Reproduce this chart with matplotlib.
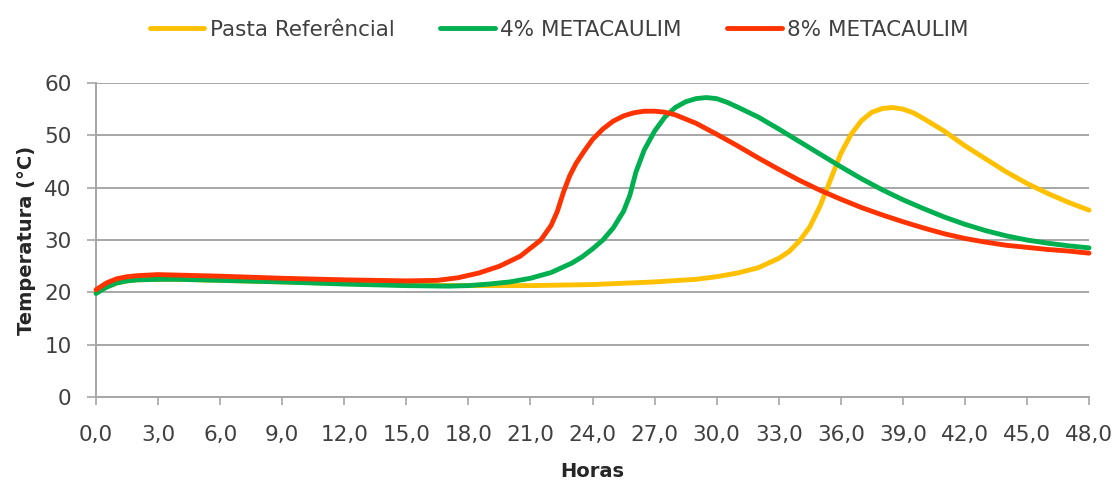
import matplotlib
matplotlib.use("Agg")
import matplotlib.pyplot as plt

# Hours of hydration and measured temperatures (°C)
hours_ref = [0, 0.5, 1, 1.5, 2, 3, 4, 6, 9, 12, 15, 18, 21, 24, 27, 29, 30, 31, 32, 33, 33.5, 34,
             34.5, 35, 35.5, 36, 36.5, 37, 37.5, 38, 38.5, 39, 39.5, 40, 41, 42, 43, 44, 45, 46, 47, 48]
temp_ref = [20.0, 21.0, 21.8, 22.2, 22.4, 22.5, 22.5, 22.3, 22.0, 21.7, 21.4, 21.3, 21.3, 21.5, 22.0, 22.5,
            23.0, 23.7, 24.7, 26.5, 27.8, 29.8, 32.5, 36.5, 41.5, 46.5, 50.2, 52.8, 54.4, 55.1, 55.3, 55.0,
            54.3, 53.2, 50.8, 48.0, 45.5, 43.0, 40.8, 38.9, 37.2, 35.7]

hours_4 = [0, 0.5, 1, 1.5, 2, 3, 4, 6, 9, 12, 15, 17, 18, 19, 20, 21, 22, 23, 23.5, 24, 24.5, 25, 25.5,
           25.8, 26.1, 26.5, 27, 27.5, 28, 28.5, 29, 29.5, 30, 30.5, 31, 32, 33, 34, 35, 36, 37, 38, 39,
           40, 41, 42, 43, 44, 45, 46, 47, 48]
temp_4 = [19.8, 21.0, 21.8, 22.2, 22.4, 22.5, 22.5, 22.3, 22.0, 21.6, 21.3, 21.2, 21.3, 21.6, 22.0, 22.7,
          23.8, 25.6, 26.8, 28.3, 30.0, 32.3, 35.5, 38.5, 43.0, 47.2, 50.8, 53.5, 55.3, 56.4, 57.0, 57.2,
          57.0, 56.3, 55.4, 53.5, 51.2, 48.8, 46.4, 44.0, 41.7, 39.6, 37.7, 36.0, 34.4, 33.0, 31.8, 30.8,
          30.0, 29.4, 28.9, 28.5]

hours_8 = [0, 0.5, 1, 1.5, 2, 3, 4, 6, 9, 12, 15, 16.5, 17.5, 18.5, 19.5, 20.5, 21.5, 22, 22.3, 22.6,
           22.9, 23.2, 23.6, 24, 24.5, 25, 25.5, 26, 26.5, 27, 27.5, 28, 29, 30, 31, 32, 33, 34, 35, 36,
           37, 38, 39, 40, 41, 42, 43, 44, 45, 46, 47, 48]
temp_8 = [20.5, 21.8, 22.6, 23.0, 23.2, 23.4, 23.3, 23.1, 22.7, 22.4, 22.2, 22.3, 22.8, 23.7, 25.0, 26.9,
          30.0, 32.8, 35.5, 39.2, 42.3, 44.6, 47.0, 49.2, 51.2, 52.7, 53.7, 54.3, 54.6, 54.6, 54.4, 53.9,
          52.3, 50.2, 48.0, 45.7, 43.5, 41.4, 39.5, 37.8, 36.2, 34.8, 33.5, 32.3, 31.2, 30.3, 29.6, 29.0,
          28.6, 28.2, 27.9, 27.5]

series_labels = ["Pasta Referêncial", "4% METACAULIM", "8% METACAULIM"]
series_colors = ["#FFC000", "#00B050", "#FF3300"]

x_ticks = [0, 3, 6, 9, 12, 15, 18, 21, 24, 27, 30, 33, 36, 39, 42, 45, 48]
y_ticks = [0, 10, 20, 30, 40, 50, 60]

plt.rcParams["font.family"] = ["DejaVu Sans"]

fig = plt.figure(figsize=(11.18, 4.82), dpi=100)
ax = fig.add_axes([0.0859, 0.176, 0.8882, 0.652])

for xs, ys, lab, col in zip([hours_ref, hours_4, hours_8], [temp_ref, temp_4, temp_8],
                            series_labels, series_colors):
    ax.plot(xs, ys, color=col, lw=3.5, label=lab, solid_capstyle="round",
            solid_joinstyle="round", zorder=3, clip_on=False)

ax.set_xlim(0, 48)
ax.set_ylim(0, 60)
ax.set_xticks(x_ticks)
ax.set_xticklabels([f"{v:.1f}".replace(".", ",") for v in x_ticks])
ax.set_yticks(y_ticks)

grid_color = "#A6A6A6"
ax.yaxis.grid(True, color=grid_color, lw=1.4, zorder=0)
ax.set_axisbelow(True)
for side in ["top", "right"]:
    ax.spines[side].set_visible(False)
for side in ["left", "bottom"]:
    ax.spines[side].set_color(grid_color)
    ax.spines[side].set_linewidth(1.4)

ax.tick_params(axis="both", colors=grid_color, width=1.2, direction="out",
               labelcolor="#404040", labelsize=15.5)
ax.tick_params(axis="x", length=6, pad=14)
ax.tick_params(axis="y", length=6.5, pad=11)

ax.set_xlabel("Horas", fontsize=14, fontweight="bold", color="#262626", labelpad=12)
ax.set_ylabel("Temperatura (°C)", fontsize=14, fontweight="bold", color="#262626", labelpad=6)

fig.legend(loc="center", bbox_to_anchor=(0.5, 0.938), ncol=3, frameon=False,
           fontsize=15.5, handlelength=2.55, columnspacing=2.1, handletextpad=0.25,
           labelcolor="#404040")

fig.savefig("out.png", dpi=100)
